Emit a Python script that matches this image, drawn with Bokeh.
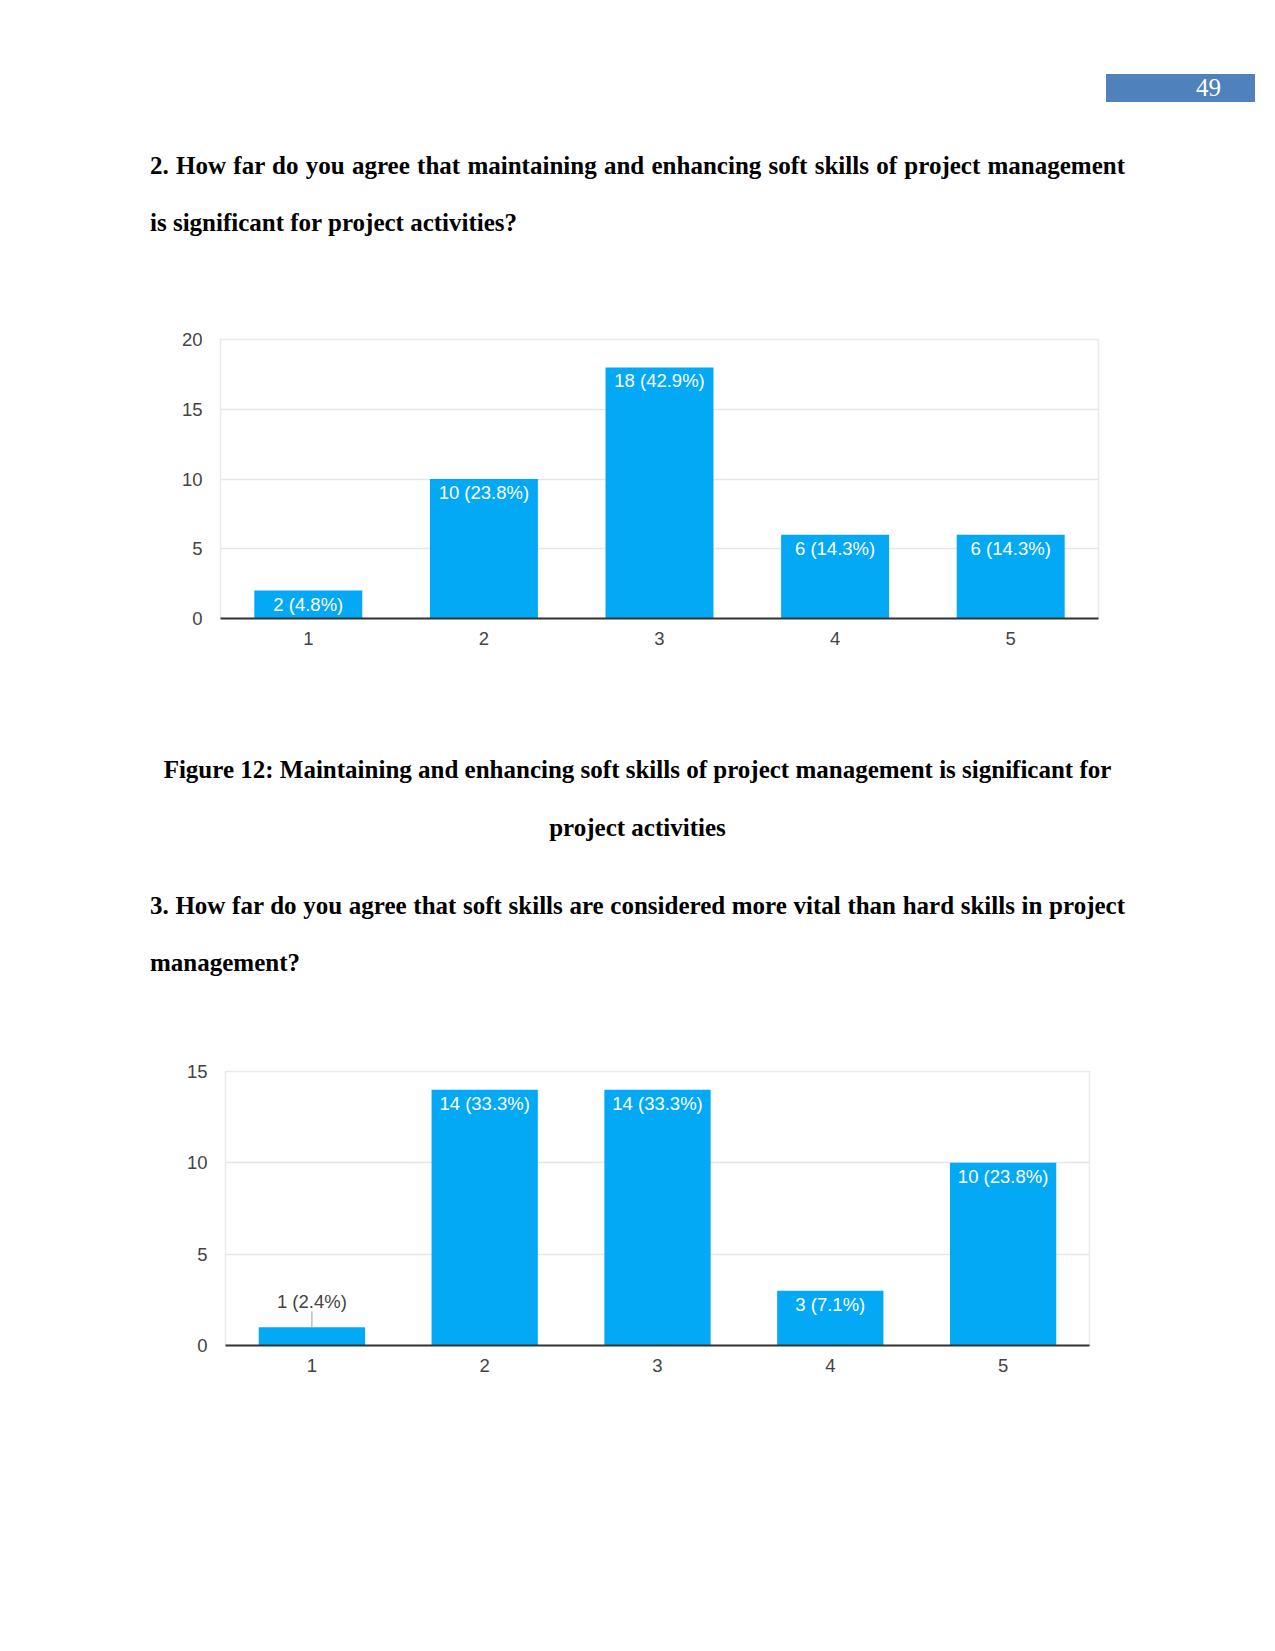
from bokeh.plotting import figure
from bokeh.models import ColumnDataSource, LabelSet, Range1d, FactorRange, FixedTicker, Div, Spacer
from bokeh.layouts import column, row
from bokeh.core.properties import value
from bokeh.embed import file_html
from bokeh.resources import INLINE

# ---------------- data ----------------
page_number = "49"
heading1 = ["2. How far do you agree that maintaining and enhancing soft skills of project management",
            "is significant for project activities?"]
caption = ["Figure 12: Maintaining and enhancing soft skills of project management is significant for",
           "project activities"]
heading2 = ["3. How far do you agree that soft skills are considered more vital than hard skills in project",
            "management?"]

categories = ["1", "2", "3", "4", "5"]
q2_counts = [2, 10, 18, 6, 6]
q2_pct = ["4.8%", "23.8%", "42.9%", "14.3%", "14.3%"]
q2_ticks = [0, 5, 10, 15, 20]
q3_counts = [1, 14, 14, 3, 10]
q3_pct = ["2.4%", "33.3%", "33.3%", "7.1%", "23.8%"]
q3_ticks = [0, 5, 10, 15]

# ---------------- styles ----------------
BAR = "#03a9f4"
SANS = "Liberation Sans"
SERIF = "Liberation Serif"
PAGE_W = 1265
BORDER_L = 220


def make_chart(counts, pcts, ticks, frame_w, frame_h):
    ymax = ticks[-1]
    p = figure(x_range=FactorRange(*categories), y_range=Range1d(0, ymax),
               frame_width=frame_w, frame_height=frame_h,
               min_border_left=BORDER_L, min_border_right=30,
               min_border_top=15, min_border_bottom=45,
               output_backend="svg", toolbar_location=None, tools="",
               margin=0, background_fill_color="white", border_fill_color="white")
    p.vbar(x=categories, top=counts, width=0.615, fill_color=BAR, line_color=None)

    labels = [f"{c} ({q})" for c, q in zip(counts, pcts)]
    ppu = frame_h / ymax
    inside = [c * ppu >= 24 for c in counts]
    src_in = ColumnDataSource(dict(
        x=[k for k, i in zip(categories, inside) if i],
        y=[c for c, i in zip(counts, inside) if i],
        t=[t for t, i in zip(labels, inside) if i]))
    src_out = ColumnDataSource(dict(
        x=[k for k, i in zip(categories, inside) if not i],
        y=[c for c, i in zip(counts, inside) if not i],
        t=[t for t, i in zip(labels, inside) if not i]))
    p.add_layout(LabelSet(x="x", y="y", text="t", source=src_in, text_color="white",
                          text_align="center", text_baseline="alphabetic", y_offset=-20,
                          text_font=value(SANS), text_font_size="18.5px"))
    p.add_layout(LabelSet(x="x", y="y", text="t", source=src_out, text_color="#444444",
                          text_align="center", text_baseline="alphabetic", y_offset=19,
                          text_font=value(SANS), text_font_size="18.5px"))
    p.ray(x="x", y="y", source=src_out, length=16, length_units="screen",
          angle=90, angle_units="deg", line_color="#9e9e9e", line_width=1)

    p.ygrid.grid_line_color = "#e6e6e6"
    p.ygrid.grid_line_width = 1.5
    p.xgrid.grid_line_color = None
    p.outline_line_color = "#eaeaea"
    p.outline_line_width = 1.5

    p.yaxis.ticker = FixedTicker(ticks=ticks)
    p.yaxis.axis_line_color = None
    p.yaxis.major_tick_line_color = None
    p.yaxis.minor_tick_line_color = None
    p.yaxis.major_tick_out = 0
    p.yaxis.major_tick_in = 0
    p.yaxis.major_label_standoff = 18
    p.yaxis.major_label_text_font = SANS
    p.yaxis.major_label_text_font_size = "18.5px"
    p.yaxis.major_label_text_color = "#444444"

    p.xaxis.axis_line_color = "#333333"
    p.xaxis.axis_line_width = 2
    p.xaxis.major_tick_line_color = None
    p.xaxis.minor_tick_line_color = None
    p.xaxis.major_tick_out = 0
    p.xaxis.major_tick_in = 0
    p.xaxis.major_label_standoff = 13
    p.xaxis.major_label_text_font = SANS
    p.xaxis.major_label_text_font_size = "18.5px"
    p.xaxis.major_label_text_color = "#444444"
    return p


def line_html(text, left, baseline, width, align, fs=25, lh=25):
    top = baseline - (lh - 1.107 * fs) / 2 - 0.891 * fs
    extra = "text-align:justify;text-align-last:justify;" if align == "justify" else f"text-align:{align};"
    return (f'<div style="position:absolute;left:{left}px;top:{top:.1f}px;width:{width}px;'
            f"font-family:'{SERIF}';font-weight:bold;font-size:{fs}px;line-height:{lh}px;"
            f'color:#000;{extra}">{text}</div>')


def text_div(inner, height):
    html = f'<div style="position:relative;width:{PAGE_W}px;height:{height}px;">' + "".join(inner) + "</div>"
    return Div(text=html, width=PAGE_W, height=height, margin=0)


# page coordinates (origin at top-left of window)
TOP_H = 324          # div1 spans page y 0..324
fig1 = make_chart(q2_counts, q2_pct, q2_ticks, 878, 279)   # page y 324..663, frame x 220..1098
MID_Y0 = 663
MID_H = 393          # div2 spans page y 663..1056
fig2 = make_chart(q3_counts, q3_pct, q3_ticks, 864, 274)   # frame x 225..1089

top_inner = []
top_inner.append('<div style="position:absolute;left:1106px;top:74px;width:149px;height:28px;background:#4f81bd;"></div>')
top_inner.append(f'<div style="position:absolute;left:1106px;top:74px;width:115px;height:28px;text-align:right;'
                 f"font-family:'{SERIF}';font-size:25px;line-height:28px;color:#ffffff;\">{page_number}</div>")
top_inner.append(line_html(heading1[0], 150, 174.3, 975, "justify"))
top_inner.append(line_html(heading1[1], 150, 231, 975, "left"))
div1 = text_div(top_inner, TOP_H)

mid_inner = []
mid_inner.append(line_html(caption[0], 150, 778 - MID_Y0, 975, "center"))
mid_inner.append(line_html(caption[1], 150, 836 - MID_Y0, 975, "center"))
mid_inner.append(line_html(heading2[0], 150, 914 - MID_Y0, 975, "justify"))
mid_inner.append(line_html(heading2[1], 150, 971 - MID_Y0, 975, "left"))
div2 = text_div(mid_inner, MID_H)

row2 = row(Spacer(width=5, height=10, margin=0), fig2, spacing=0, margin=0)
layout = column(div1, fig1, div2, row2, spacing=0, margin=0)

open("out.html", "w").write(file_html(layout, INLINE))
